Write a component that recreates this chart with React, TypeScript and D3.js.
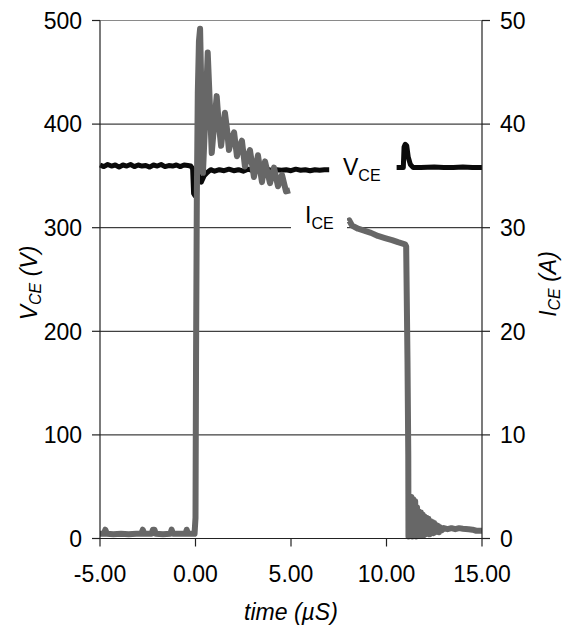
import React from "react";
import * as d3 from "d3";

const xTicks = [-5, 0, 5, 10, 15];
const vTicks = [0, 100, 200, 300, 400, 500];
const iTicks = [0, 10, 20, 30, 40, 50];

// V_CE trace (time in µs, volts); null marks a gap hidden behind the label
const vceTime = [
  -5.0, -4.8, -4.6, -4.4, -4.2, -4.0, -3.8, -3.6, -3.4, -3.2, -3.0, -2.8, -2.6, -2.4, -2.2, -2.0,
  -1.8, -1.6, -1.4, -1.2, -1.0, -0.8, -0.6, -0.4, -0.25, -0.15, -0.1, -0.03, 0.0, 0.04, 0.12, 0.2,
  0.3, 0.45, 0.6, 0.8, 1.0, 1.25, 1.5, 1.75, 2.0, 2.25, 2.5, 2.75, 3.0, 3.25, 3.5, 3.75, 4.0,
  4.25, 4.5, 4.75, 5.0, 5.25, 5.5, 5.75, 6.0, 6.25, 6.5, 6.75, 7.0, 8.5,
  10.53, 10.7, 10.88, 10.92, 10.98, 11.06, 11.14, 11.25, 11.4, 11.8, 12.5, 13.0, 13.5, 14.0, 14.5, 15.0,
];
const vceVolts = [
  360.5, 359, 361, 359.5, 360.5, 358.5, 360.5, 359.5, 361, 359, 360.5, 359.5, 360, 358.5, 360.5, 359.5,
  361, 359, 360, 359.5, 360.5, 359, 360.5, 360, 359.5, 357, 333, 331, 338, 352, 356, 346,
  344, 350, 353, 356, 354.5, 356, 355, 356.5, 355, 356, 354.5, 356.5, 355, 356, 355.5, 356.5, 355,
  356, 355.5, 356, 355, 356.5, 355.5, 356, 355, 356, 355.5, 356, 356, null,
  358, 358, 358, 378, 380.5, 379, 368, 361, 358, 358, 358.5, 358, 358, 358.5, 358, 358,
];

// I_CE trace (time in µs, amps)
const iceTime = [
  -5.0, -4.8, -4.72, -4.64, -4.3, -3.9, -3.5, -3.1, -2.84, -2.76, -2.68, -2.3, -2.23, -2.15, -2.08,
  -1.7, -1.32, -1.25, -1.18, -0.85, -0.52, -0.46, -0.4, -0.05,
  0.0, 0.03, 0.07, 0.12, 0.18, 0.24, 0.31, 0.39, 0.5, 0.64, 0.75, 0.85, 0.98, 1.11, 1.22, 1.34,
  1.44, 1.54, 1.65, 1.75, 1.88, 2.02, 2.17, 2.3, 2.43, 2.59, 2.72, 2.85, 3.06, 3.27, 3.48, 3.64,
  3.9, 4.11, 4.32, 4.53, 4.74, 4.95, 6.5,
  7.98, 8.05, 8.2, 8.51, 8.87, 9.19, 9.55, 9.92, 10.29, 10.6, 10.97, 11.03, 11.1, 11.14, 11.15,
  11.2, 11.25, 11.3, 11.35, 11.4, 11.45, 11.5, 11.55, 11.6, 11.65, 11.7, 11.75, 11.8, 11.85, 11.9,
  11.95, 12.0, 12.05, 12.1, 12.15, 12.2, 12.25, 12.3, 12.35, 12.4, 12.45, 12.5, 12.55, 12.6, 12.65,
  12.7, 12.75, 12.8, 12.9, 13.0, 13.2, 13.4, 13.6, 13.8, 14.0, 14.3, 14.5, 14.7, 15.0,
];
const iceAmps = [
  0.45, 0.45, 0.85, 0.45, 0.4, 0.45, 0.4, 0.45, 0.45, 0.85, 0.45, 0.45, 0.85, 0.85, 0.45,
  0.4, 0.45, 0.85, 0.45, 0.45, 0.45, 0.85, 0.45, 0.45,
  2, 18, 33, 43, 48, 49.2, 43, 35.3, 40, 46.9, 42, 37.2, 40, 42.7, 40, 37.9,
  39.5, 41.1, 39.5, 37.5, 38.5, 39.2, 36.9, 37.8, 38.4, 35.9, 36.8, 37.5, 34.9, 37, 34.4, 36.4,
  34.3, 35.8, 34.0, 35.1, 33.5, 33.6, null,
  30.6, 30.7, 30.2, 29.9, 29.7, 29.5, 29.2, 29.0, 28.8, 28.6, 28.4, 28.2, 17, 8, 0.2,
  4.0, 0.3, 4.0, 0.2, 3.8, 0.3, 3.6, 0.2, 3.0, 0.3, 2.6, 0.3, 2.5, 0.4, 2.3,
  0.3, 2.1, 0.4, 2.0, 0.5, 1.9, 0.4, 1.7, 0.6, 1.6, 0.5, 1.5, 0.6, 1.3, 0.7,
  1.2, 0.6, 1.1, 0.8, 1.0, 0.9, 1.0, 0.9, 1.0, 0.95, 0.9, 0.85, 0.75, 0.75,
];

const FONT = "'Liberation Sans', Arial, Helvetica, sans-serif";

export default function App() {
  const W = 565;
  const H = 630;
  const left = 100;
  const right = 482;
  const top = 20.5;
  const bottom = 538.5;

  const x = d3.scaleLinear().domain([-5, 15]).range([left, right]);
  const yV = d3.scaleLinear().domain([0, 500]).range([bottom, top]);
  const yI = d3.scaleLinear().domain([0, 50]).range([bottom, top]);

  const vIdx = d3.range(vceTime.length);
  const iIdx = d3.range(iceTime.length);

  const lineV = d3
    .line<number>()
    .defined((i) => vceVolts[i] != null)
    .x((i) => x(vceTime[i]))
    .y((i) => yV(vceVolts[i] as number));
  const lineI = d3
    .line<number>()
    .defined((i) => iceAmps[i] != null)
    .x((i) => x(iceTime[i]))
    .y((i) => yI(iceAmps[i] as number));

  const fmtX = (t: number) => d3.format(".2f")(t).replace("\u2212", "-");

  return (
    <svg
      width={W}
      height={H}
      style={{ position: "absolute", left: 0, top: 0, background: "#fff" }}
      fontFamily={FONT}
    >
      <rect x={0} y={0} width={W} height={H} fill="#fff" />
      {/* gridlines */}
      {vTicks
        .filter((v) => v > 0 && v < 500)
        .map((v) => (
          <line key={"g" + v} x1={left} x2={right} y1={yV(v)} y2={yV(v)} stroke="#111" strokeWidth={1} />
        ))}
      <line x1={left} x2={right} y1={yV(500)} y2={yV(500)} stroke="#8a8a8a" strokeWidth={1.2} />

      {/* traces */}
      <path d={lineV(vIdx) || ""} fill="none" stroke="#0a0a0a" strokeWidth={5} strokeLinejoin="round" />
      <path d={lineI(iIdx) || ""} fill="none" stroke="#676767" strokeWidth={6} strokeLinejoin="round" />

      {/* axes */}
      <line x1={left} x2={left} y1={top} y2={bottom} stroke="#222" strokeWidth={1.2} />
      <line x1={right} x2={right} y1={top} y2={bottom} stroke="#222" strokeWidth={1.2} />
      <line x1={left} x2={right} y1={bottom} y2={bottom} stroke="#222" strokeWidth={1.2} />

      {vTicks.map((v) => (
        <g key={"v" + v}>
          <line x1={left - 8} x2={left} y1={yV(v)} y2={yV(v)} stroke="#222" strokeWidth={1.2} />
          <text x={82} y={yV(v) + 8.2} fontSize={23} textAnchor="end" fill="#000">
            {v}
          </text>
        </g>
      ))}
      {iTicks.map((v) => (
        <g key={"i" + v}>
          <line x1={right} x2={right + 8} y1={yI(v)} y2={yI(v)} stroke="#222" strokeWidth={1.2} />
          <text x={500} y={yI(v) + 8.2} fontSize={23} textAnchor="start" fill="#000">
            {v}
          </text>
        </g>
      ))}
      {xTicks.map((t) => (
        <g key={"x" + t}>
          <line x1={x(t)} x2={x(t)} y1={bottom} y2={bottom + 8} stroke="#222" strokeWidth={1.2} />
          <text x={x(t)} y={582} fontSize={23} textAnchor="middle" fill="#000">
            {fmtX(t)}
          </text>
        </g>
      ))}

      {/* in-plot labels */}
      <rect x={291} y={200} width={56} height={38} fill="#fff" />
      <text x={305} y={223} fontSize={23} fill="#000">
        I<tspan fontSize={16} dy={6}>CE</tspan>
      </text>
      <text x={343} y={175} fontSize={23} fill="#000">
        V<tspan fontSize={16} dy={6}>CE</tspan>
      </text>

      {/* axis titles */}
      <text x={291} y={620} fontSize={23} fontStyle="italic" textAnchor="middle" fill="#000">
        time (µS)
      </text>
      <text
        transform={`translate(37,283) rotate(-90)`}
        fontSize={23}
        fontStyle="italic"
        textAnchor="middle"
        fill="#000"
      >
        V<tspan fontSize={16} dy={4}>CE</tspan>
        <tspan dy={-4}> (V)</tspan>
      </text>
      <text
        transform={`translate(556,284) rotate(-90)`}
        fontSize={23}
        fontStyle="italic"
        textAnchor="middle"
        fill="#000"
      >
        I<tspan fontSize={16} dy={4}>CE</tspan>
        <tspan dy={-4}> (A)</tspan>
      </text>
    </svg>
  );
}
